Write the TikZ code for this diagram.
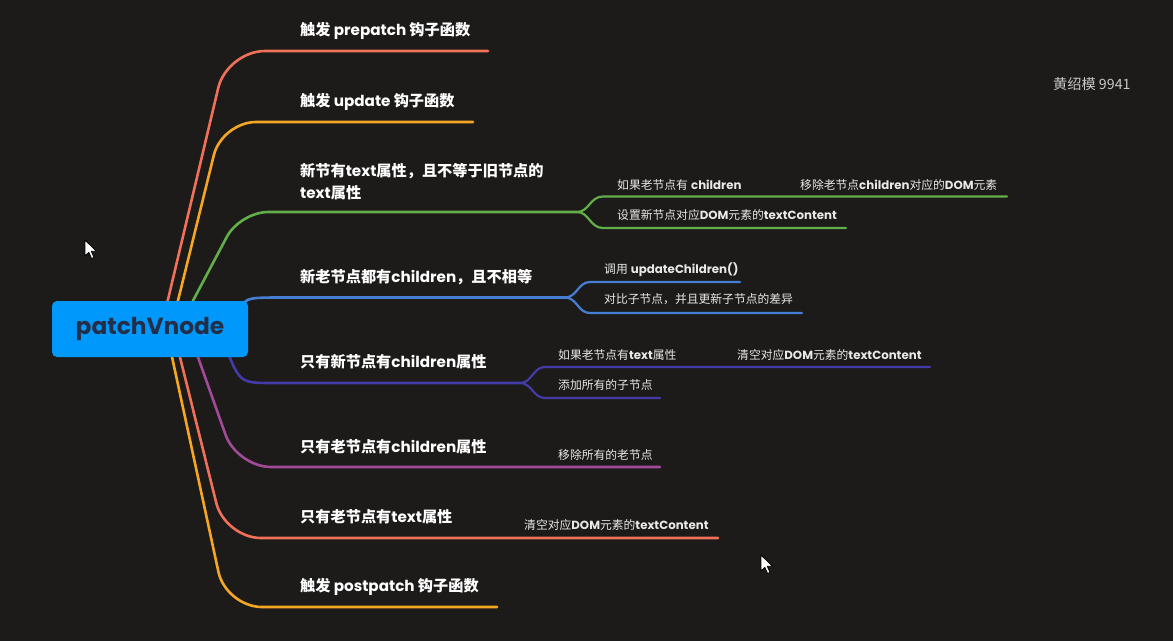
\documentclass[tikz,border=0pt]{standalone}
\usepackage{fontspec}
\setmainfont{Poppins}
\newfontfamily\zh{Noto Sans CJK SC}
\usetikzlibrary{calc}
\definecolor{bg}{HTML}{1C1B19}
\definecolor{cred}{HTML}{F0705A}
\definecolor{corange}{HTML}{F5A623}
\definecolor{cgreen}{HTML}{62AE48}
\definecolor{cblue}{HTML}{467ED4}
\definecolor{cindigo}{HTML}{453BA8}
\definecolor{cmagenta}{HTML}{A24A98}
\definecolor{croot}{HTML}{0098FA}
\definecolor{croottext}{HTML}{232F48}
\definecolor{csub}{HTML}{E8E8E8}
\definecolor{cmark}{HTML}{C8C8C8}
\begin{document}
\begin{tikzpicture}[x=1pt,y=-1pt,
  branch/.style={line width=2.6pt, line cap=round},
  subbranch/.style={line width=2.2pt, line cap=round},
  maintext/.style={anchor=west, inner sep=0pt, text=white, font=\bfseries\fontsize{15.2}{22}\selectfont, align=left},
  subtext/.style={anchor=west, inner sep=0pt, text=csub, font=\fontsize{11.8}{14}\selectfont},
  rootbox/.style={fill=croot, rounded corners=5pt, minimum width=196pt, minimum height=56pt, inner sep=0pt, text=croottext, font=\bfseries\fontsize{23.3}{26}\selectfont},
  pointer/.style={fill=white, draw=black, line width=0.8pt, line join=round}]
\fill[bg] (0,0) rectangle (1173,641);
\useasboundingbox (0,0) rectangle (1173,641);

% coordinates
\coordinate (s1) at (161,329); \coordinate (k1) at (227,51);  \coordinate (e1) at (488,51);
\coordinate (s2) at (171,329); \coordinate (k2) at (222,122); \coordinate (e2) at (473,122);
\coordinate (s3) at (178,329); \coordinate (k3) at (240,212); \coordinate (j3) at (577,212);
\coordinate (g1) at (603,196.5); \coordinate (g1e) at (1007,196.5);
\coordinate (g2) at (603,228); \coordinate (g2e) at (846,228);
\coordinate (s4) at (238,312); \coordinate (k4) at (272,297.5); \coordinate (j4) at (565,297.5);
\coordinate (b1) at (590,282); \coordinate (b1e) at (740,282);
\coordinate (b2) at (590,313); \coordinate (b2e) at (802,313);
\coordinate (s5) at (226,348); \coordinate (k5) at (274,383); \coordinate (j5) at (520,383);
\coordinate (i1) at (545,367); \coordinate (i1e) at (930,367);
\coordinate (i2) at (545,398); \coordinate (i2e) at (660,398);
\coordinate (s6) at (188,329); \coordinate (k6) at (237,467); \coordinate (e6) at (660,467);
\coordinate (s7) at (173,329); \coordinate (k7) at (225,538); \coordinate (e7) at (718,538);
\coordinate (s8) at (166,329); \coordinate (k8) at (226,607); \coordinate (e8) at (497,607);

% main branches
\draw[branch,cred,rounded corners=38pt] (s1) -- (k1) -- (e1);
\draw[branch,corange,rounded corners=34pt] (s2) -- (k2) -- (e2);
\draw[branch,cgreen,rounded corners=28pt] (s3) -- (k3) -- (j3);
\draw[branch,cblue] (s4) .. controls (246,298) .. (k4) -- (j4);
\draw[branch,cindigo] (s5) .. controls (240,383) .. (k5) -- (j5);
\draw[branch,cmagenta,rounded corners=34pt] (s6) -- (k6) -- (e6);
\draw[branch,cred,rounded corners=36pt] (s7) -- (k7) -- (e7);
\draw[branch,corange,rounded corners=36pt] (s8) -- (k8) -- (e8);

% sub branches
\draw[subbranch,cgreen] (j3) .. controls (589,212) and (590,196.5) .. (g1) -- (g1e);
\draw[subbranch,cgreen] (j3) .. controls (589,212) and (590,228) .. (g2) -- (g2e);
\draw[subbranch,cblue] (j4) .. controls (577,297.5) and (578,282) .. (b1) -- (b1e);
\draw[subbranch,cblue] (j4) .. controls (577,297.5) and (578,313) .. (b2) -- (b2e);
\draw[subbranch,cindigo] (j5) .. controls (532,383) and (533,367) .. (i1) -- (i1e);
\draw[subbranch,cindigo] (j5) .. controls (532,383) and (533,398) .. (i2) -- (i2e);

% root
\node[rootbox] (root) at (150,329) {patchVnode};

% main texts
\node[maintext] (t1) at (300,31) {{\zh 触发} prepatch {\zh 钩子函数}};
\node[maintext] (t2) at (300,102) {{\zh 触发} update {\zh 钩子函数}};
\node[maintext] (t3) at (300,182) {{\zh 新节有}text{\zh 属性，且不等于旧节点的}\\text{\zh 属性}};
\node[maintext] (t4) at (300,277) {{\zh 新老节点都有}children{\zh ，且不相等}};
\node[maintext] (t5) at (300,362) {{\zh 只有新节点有}children{\zh 属性}};
\node[maintext] (t6) at (300,447) {{\zh 只有老节点有}children{\zh 属性}};
\node[maintext] (t7) at (300,517) {{\zh 只有老节点有}text{\zh 属性}};
\node[maintext] (t8) at (300,587) {{\zh 触发} postpatch {\zh 钩子函数}};

% sub texts
\node[subtext] (u1) at (617,185) {{\zh 如果老节点有} \textbf{children}};
\node[subtext] (u2) at (800,185) {{\zh 移除老节点}\textbf{children}{\zh 对应的}\textbf{DOM}{\zh 元素}};
\node[subtext] (u3) at (617,215) {{\zh 设置新节点对应}\textbf{DOM}{\zh 元素的}\textbf{textContent}};
\node[subtext] (u4) at (604,270) {{\zh 调用} \textbf{updateChildren()}};
\node[subtext] (u5) at (604,299) {{\zh 对比子节点，并且更新子节点的差异}};
\node[subtext] (u6) at (558,355) {{\zh 如果老节点有}\textbf{text}{\zh 属性}};
\node[subtext] (u7) at (737,355) {{\zh 清空对应}\textbf{DOM}{\zh 元素的}\textbf{textContent}};
\node[subtext] (u8) at (558,385) {{\zh 添加所有的子节点}};
\node[subtext] (u9) at (558,455) {{\zh 移除所有的老节点}};
\node[subtext] (u10) at (524,525) {{\zh 清空对应}\textbf{DOM}{\zh 元素的}\textbf{textContent}};

% watermark
\node[anchor=west, inner sep=0pt, text=cmark, font=\zh\fontsize{14.2}{16}\selectfont] (wm) at (1053,84) {黄绍模 9941};

% mouse pointers
\draw[pointer] (85,240) -- (85,256) -- (88.8,252.3) -- (91.6,258.5) -- (94,257.4) -- (91.3,251.3) -- (96.5,251.3) -- cycle;
\draw[pointer] (761,555) -- (761,571) -- (764.8,567.3) -- (767.6,573.5) -- (770,572.4) -- (767.3,566.3) -- (772.5,566.3) -- cycle;
\end{tikzpicture}
\end{document}
